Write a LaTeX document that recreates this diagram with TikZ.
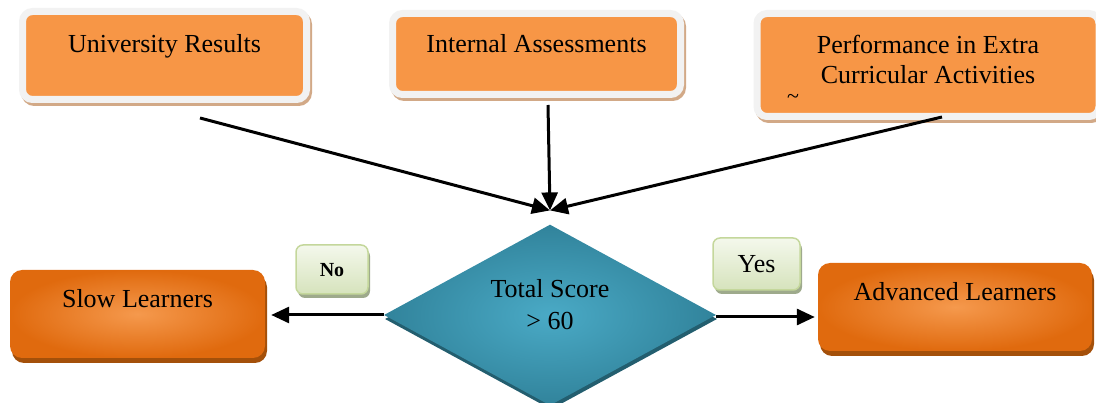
\documentclass[tikz,border=0pt]{standalone}
\usepackage{fontspec}
\setmainfont{Liberation Serif}
\usetikzlibrary{shapes.geometric,shadows,arrows.meta}
\definecolor{topfill}{HTML}{F79646}
\definecolor{framegray}{HTML}{F2F2F2}
\definecolor{shadowtan}{HTML}{D2A987}
\definecolor{learnin}{HTML}{F5994D}
\definecolor{learnout}{HTML}{E06A0E}
\definecolor{learnshadow}{HTML}{A4500A}
\definecolor{scorein}{HTML}{4AAAC6}
\definecolor{scoreout}{HTML}{31839B}
\definecolor{scoreshadow}{HTML}{235E6F}
\definecolor{tagtop}{HTML}{F4F8EC}
\definecolor{tagbot}{HTML}{D6E3BC}
\definecolor{tagline}{HTML}{C4D79B}
\definecolor{tagshadow}{HTML}{9EAA8C}
\begin{document}
\begin{tikzpicture}[x=1pt,y=-1pt,
  topbox/.style={draw=framegray, line width=7pt, fill=topfill, rounded corners=10pt,
    inner sep=0pt, font=\fontsize{26}{30}\selectfont, text height=18pt,
    drop shadow={shadow xshift=2pt, shadow yshift=-3pt, opacity=1, fill=shadowtan, draw=shadowtan, line width=7pt}},
  learner/.style={rounded corners=12pt, inner color=learnin, outer color=learnout,
    inner sep=0pt, font=\fontsize{26}{30}\selectfont, text height=18pt, text depth=31pt,
    drop shadow={shadow xshift=2pt, shadow yshift=-5pt, opacity=1, fill=learnshadow}},
  tag/.style={rounded corners=7pt, draw=tagline, line width=1.5pt, top color=tagtop, bottom color=tagbot,
    inner sep=0pt, drop shadow={shadow xshift=2pt, shadow yshift=-4pt, opacity=1, fill=tagshadow}},
  arr/.style={line width=3pt, -{Triangle[length=18pt,width=16pt]}}]
\useasboundingbox (0,0) rectangle (1096,403);

\node[topbox, minimum width=284pt, minimum height=88pt, text depth=23pt] (univ) at (164.5,55.5) {University Results};
\node[topbox, minimum width=288pt, minimum height=81pt, text depth=20pt] (intern) at (536.5,54) {Internal Assessments};
\node[topbox, minimum width=342pt, minimum height=103pt, text height=48pt, text depth=10pt, align=center] (extra) at (928,65) {Performance in Extra\\Curricular Activities};
\node[font=\fontsize{22}{22}\selectfont, inner sep=0pt] (tilde) at (793,99) {\textasciitilde};

\node[diamond, minimum width=332pt, minimum height=174pt, inner sep=0pt, align=center,
  inner color=scorein, outer color=scoreout, font=\fontsize{26}{32}\selectfont, text height=46pt, text depth=16pt,
  drop shadow={shadow xshift=1pt, shadow yshift=-4pt, opacity=1, fill=scoreshadow}] (score) at (550,315) {Total Score\\> 60};

\node[learner, minimum width=255pt, minimum height=88pt] (slow) at (137.5,314) {Slow Learners};
\node[learner, minimum width=274pt, minimum height=88pt] (adv) at (955,307) {Advanced Learners};

\node[tag, minimum width=72pt, minimum height=49pt, font=\fontsize{20}{24}\selectfont\bfseries, text height=20pt, text depth=5pt] (no) at (332,269.5) {No};
\node[tag, minimum width=87pt, minimum height=52pt, font=\fontsize{26}{30}\selectfont, text height=24pt, text depth=6pt] (yes) at (756.5,264) {Yes};

\coordinate (univ out) at (200,118);
\coordinate (intern out) at (548,105);
\coordinate (extra out) at (942,117);
\coordinate (meet) at ([yshift=14pt]score.north);

\draw[arr] (univ out) -- (meet);
\draw[arr] (intern out) -- (meet);
\draw[arr] (extra out) -- (meet);
\draw[arr, shorten >=6pt] (score.west) -- (score.west -| slow.east);
\draw[arr, shorten >=3pt] ([yshift=-2pt]score.east) -- ([yshift=-2pt]score.east -| adv.west);
\end{tikzpicture}
\end{document}
